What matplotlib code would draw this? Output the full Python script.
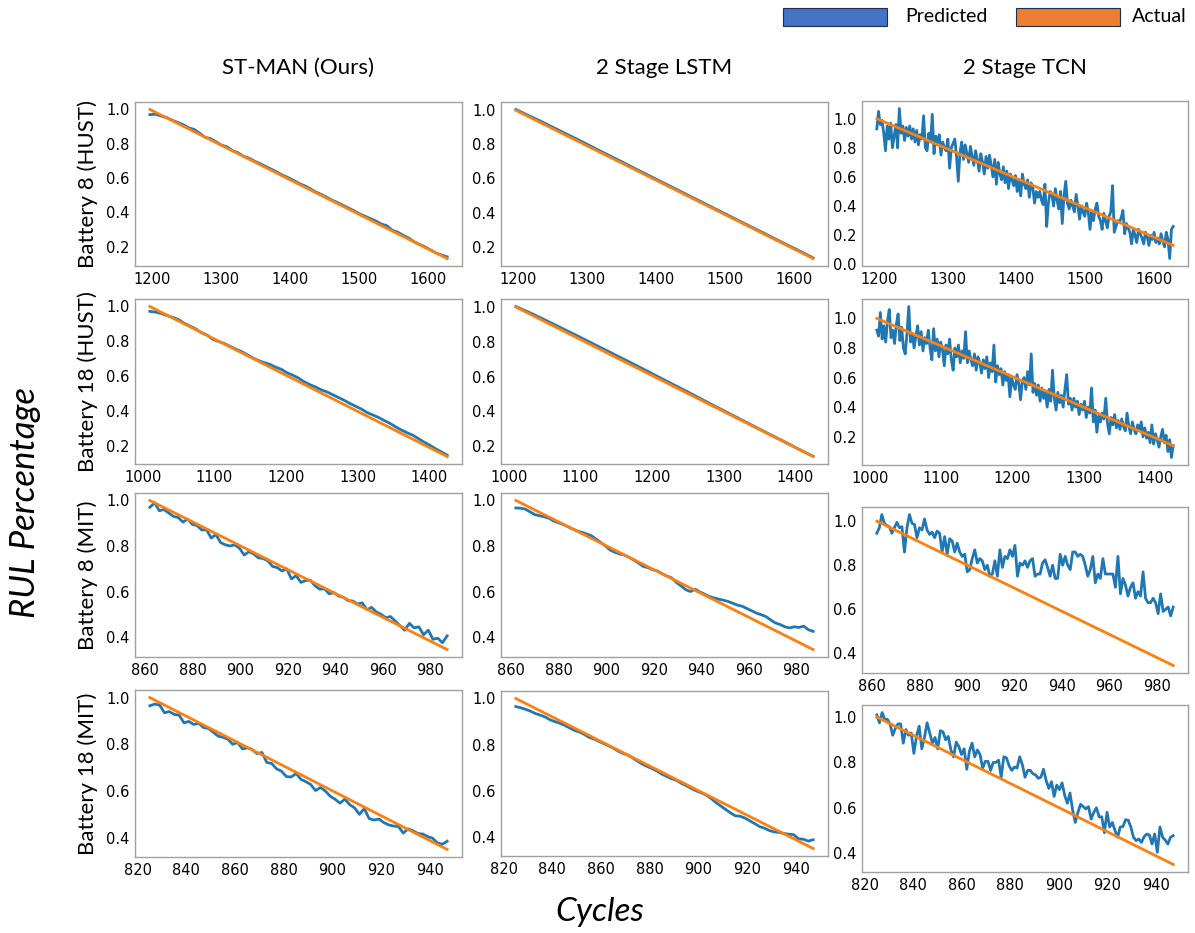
import numpy as np
import matplotlib.pyplot as plt
from matplotlib.patches import Rectangle
from matplotlib.ticker import MultipleLocator

# first / last cycle of each test battery
cycles_hust8 = [1197, 1628]
cycles_hust18 = [1010, 1425]
cycles_mit8 = [862, 987]
cycles_mit18 = [825, 947]

# actual RUL percentage at the first / last cycle (decays linearly)
actual_hust8 = [1.0, 0.13]
actual_hust18 = [1.0, 0.14]
actual_mit8 = [1.0, 0.345]
actual_mit18 = [1.0, 0.35]

# predicted RUL percentage, evenly spaced over each cycle range
stman_hust8 = [0.970, 0.972, 0.962, 0.953, 0.938, 0.925, 0.912, 0.893, 0.884, 0.862,
               0.838, 0.830, 0.812, 0.792, 0.782, 0.760, 0.748, 0.727, 0.716, 0.698,
               0.684, 0.668, 0.652, 0.636, 0.618, 0.604, 0.588, 0.570, 0.556, 0.540,
               0.520, 0.506, 0.490, 0.472, 0.458, 0.442, 0.426, 0.410, 0.392, 0.378,
               0.364, 0.350, 0.332, 0.322, 0.296, 0.284, 0.266, 0.250, 0.228, 0.212,
               0.198, 0.180, 0.162, 0.150, 0.140]
stman_hust18 = [0.972, 0.968, 0.960, 0.948, 0.938, 0.925, 0.904, 0.888, 0.872, 0.850,
                0.836, 0.812, 0.800, 0.788, 0.772, 0.756, 0.742, 0.724, 0.705, 0.690,
                0.678, 0.668, 0.652, 0.640, 0.620, 0.606, 0.590, 0.568, 0.552, 0.538,
                0.522, 0.510, 0.494, 0.478, 0.462, 0.444, 0.428, 0.412, 0.392, 0.378,
                0.364, 0.346, 0.330, 0.310, 0.292, 0.276, 0.262, 0.242, 0.222, 0.204,
                0.184, 0.166, 0.148]
stman_mit8 = [0.970, 0.990, 0.955, 0.960, 0.945, 0.930, 0.925, 0.905, 0.918, 0.895,
              0.890, 0.870, 0.872, 0.835, 0.850, 0.815, 0.805, 0.800, 0.805, 0.790,
              0.760, 0.775, 0.765, 0.748, 0.745, 0.735, 0.710, 0.705, 0.690, 0.700,
              0.655, 0.670, 0.640, 0.648, 0.650, 0.625, 0.610, 0.612, 0.590, 0.595,
              0.580, 0.575, 0.560, 0.558, 0.545, 0.550, 0.520, 0.530, 0.510, 0.500,
              0.485, 0.490, 0.470, 0.450, 0.430, 0.460, 0.440, 0.445, 0.410, 0.430,
              0.390, 0.395, 0.375, 0.405]
stman_mit18 = [0.965, 0.972, 0.968, 0.935, 0.940, 0.928, 0.925, 0.892, 0.898, 0.885,
               0.890, 0.872, 0.868, 0.852, 0.835, 0.830, 0.822, 0.800, 0.808, 0.780,
               0.785, 0.778, 0.760, 0.765, 0.722, 0.718, 0.695, 0.685, 0.662, 0.660,
               0.675, 0.650, 0.640, 0.628, 0.602, 0.615, 0.600, 0.578, 0.565, 0.548,
               0.565, 0.542, 0.528, 0.500, 0.525, 0.482, 0.476, 0.480, 0.465, 0.455,
               0.450, 0.448, 0.420, 0.438, 0.430, 0.418, 0.416, 0.405, 0.398, 0.378,
               0.372, 0.385]

lstm_hust8 = [1.005, 0.970, 0.936, 0.900, 0.864, 0.828, 0.791, 0.754, 0.718, 0.681,
              0.644, 0.608, 0.571, 0.535, 0.498, 0.462, 0.425, 0.389, 0.352, 0.316,
              0.280, 0.243, 0.207, 0.171, 0.134]
lstm_hust18 = [1.003, 0.965, 0.924, 0.882, 0.840, 0.797, 0.754, 0.711, 0.668, 0.624,
               0.580, 0.536, 0.492, 0.447, 0.403, 0.359, 0.315, 0.271, 0.228, 0.184,
               0.141]
lstm_mit8 = [0.967, 0.966, 0.962, 0.950, 0.938, 0.933, 0.928, 0.922, 0.910, 0.902,
             0.895, 0.885, 0.875, 0.866, 0.860, 0.853, 0.845, 0.830, 0.815, 0.800,
             0.782, 0.772, 0.765, 0.760, 0.750, 0.738, 0.725, 0.710, 0.705, 0.696,
             0.690, 0.678, 0.668, 0.660, 0.640, 0.625, 0.608, 0.600, 0.610, 0.598,
             0.588, 0.578, 0.572, 0.566, 0.562, 0.556, 0.548, 0.540, 0.535, 0.525,
             0.515, 0.505, 0.498, 0.490, 0.475, 0.462, 0.455, 0.445, 0.440, 0.445,
             0.442, 0.448, 0.432, 0.425]
lstm_mit18 = [0.965, 0.960, 0.953, 0.945, 0.935, 0.928, 0.920, 0.908, 0.900, 0.893,
              0.884, 0.873, 0.862, 0.855, 0.845, 0.832, 0.825, 0.815, 0.805, 0.795,
              0.785, 0.772, 0.762, 0.755, 0.742, 0.728, 0.715, 0.705, 0.696, 0.685,
              0.672, 0.662, 0.652, 0.645, 0.632, 0.622, 0.610, 0.600, 0.592, 0.582,
              0.568, 0.550, 0.535, 0.520, 0.505, 0.492, 0.490, 0.482, 0.470, 0.458,
              0.445, 0.438, 0.428, 0.422, 0.420, 0.415, 0.412, 0.410, 0.392, 0.390,
              0.382, 0.388]

tcn_hust8 = [0.93, 1.05, 0.96, 0.99, 0.90, 0.78, 0.95, 0.86, 0.97, 0.80,
             0.88, 0.96, 0.80, 1.07, 0.90, 0.95, 0.85, 0.94, 0.88, 0.95,
             0.86, 0.93, 0.84, 0.92, 0.82, 0.89, 0.86, 1.02, 0.80, 0.78,
             0.90, 0.84, 1.03, 0.76, 0.88, 0.82, 0.89, 0.75, 0.84, 0.80,
             0.78, 0.86, 0.66, 0.80, 0.83, 0.86, 0.74, 0.57, 0.77, 0.84,
             0.72, 0.82, 0.76, 0.70, 0.81, 0.74, 0.68, 0.78, 0.72, 0.64,
             0.76, 0.70, 0.62, 0.74, 0.66, 0.75, 0.68, 0.60, 0.72, 0.55,
             0.70, 0.62, 0.58, 0.67, 0.56, 0.64, 0.52, 0.62, 0.58, 0.54,
             0.61, 0.50, 0.58, 0.47, 0.62, 0.55, 0.52, 0.58, 0.46, 0.56,
             0.53, 0.42, 0.50, 0.46, 0.50, 0.44, 0.41, 0.55, 0.26, 0.42,
             0.50, 0.48, 0.40, 0.52, 0.44, 0.38, 0.50, 0.28, 0.47, 0.57,
             0.42, 0.38, 0.44, 0.40, 0.36, 0.48, 0.40, 0.31, 0.40, 0.36,
             0.33, 0.42, 0.36, 0.24, 0.36, 0.30, 0.38, 0.42, 0.33, 0.30,
             0.24, 0.35, 0.30, 0.25, 0.33, 0.36, 0.54, 0.22, 0.26, 0.30,
             0.29, 0.32, 0.37, 0.21, 0.28, 0.25, 0.22, 0.14, 0.24, 0.20,
             0.15, 0.24, 0.21, 0.18, 0.14, 0.22, 0.19, 0.13, 0.20, 0.17,
             0.22, 0.15, 0.18, 0.14, 0.21, 0.16, 0.12, 0.22, 0.17, 0.04,
             0.24, 0.26]
tcn_hust18 = [0.92, 0.88, 1.04, 0.86, 0.95, 0.84, 0.98, 1.06, 0.87, 0.92,
              0.83, 0.96, 1.03, 0.85, 0.94, 0.80, 0.76, 0.90, 1.08, 0.84,
              0.90, 0.80, 0.88, 0.95, 0.82, 0.91, 0.78, 0.87, 0.83, 0.92,
              0.80, 0.72, 0.93, 0.78, 0.86, 0.74, 0.84, 0.79, 0.68, 0.82,
              0.76, 0.86, 0.72, 0.65, 0.80, 0.74, 0.82, 0.70, 0.78, 0.73,
              0.91, 0.70, 0.78, 0.72, 0.68, 0.76, 0.65, 0.74, 0.70, 0.63,
              0.72, 0.66, 0.74, 0.60, 0.70, 0.64, 0.82, 0.57, 0.68, 0.62,
              0.66, 0.55, 0.64, 0.58, 0.62, 0.47, 0.60, 0.55, 0.52, 0.62,
              0.56, 0.45, 0.58, 0.60, 0.52, 0.64, 0.55, 0.76, 0.50, 0.56,
              0.48, 0.55, 0.44, 0.53, 0.46, 0.50, 0.40, 0.52, 0.44, 0.65,
              0.46, 0.38, 0.50, 0.43, 0.48, 0.40, 0.52, 0.62, 0.42, 0.46,
              0.38, 0.46, 0.40, 0.44, 0.35, 0.42, 0.38, 0.44, 0.33, 0.40,
              0.36, 0.53, 0.30, 0.38, 0.23, 0.34, 0.30, 0.36, 0.32, 0.46,
              0.29, 0.22, 0.33, 0.28, 0.35, 0.26, 0.31, 0.25, 0.32, 0.27,
              0.24, 0.36, 0.27, 0.22, 0.30, 0.25, 0.22, 0.28, 0.24, 0.30,
              0.20, 0.26, 0.19, 0.23, 0.16, 0.28, 0.15, 0.22, 0.18, 0.13,
              0.20, 0.25, 0.16, 0.21, 0.10, 0.18, 0.06, 0.14]
tcn_mit8 = [0.945, 0.970, 1.030, 0.990, 0.980, 0.975, 0.945, 0.970, 0.995, 0.970,
            0.975, 0.860, 0.970, 1.030, 0.990, 0.985, 0.925, 0.970, 0.960, 1.010,
            0.960, 0.940, 0.950, 0.925, 0.955, 0.945, 0.860, 0.930, 0.850, 0.920,
            0.910, 0.860, 0.900, 0.860, 0.840, 0.850, 0.770, 0.780, 0.830, 0.870,
            0.810, 0.830, 0.820, 0.780, 0.800, 0.750, 0.760, 0.820, 0.750, 0.870,
            0.790, 0.840, 0.830, 0.870, 0.840, 0.890, 0.750, 0.810, 0.800, 0.820,
            0.790, 0.820, 0.830, 0.750, 0.760, 0.760, 0.810, 0.825, 0.790, 0.750,
            0.800, 0.740, 0.740, 0.850, 0.800, 0.840, 0.800, 0.780, 0.860, 0.860,
            0.840, 0.850, 0.840, 0.800, 0.750, 0.780, 0.840, 0.720, 0.760, 0.740,
            0.830, 0.760, 0.760, 0.760, 0.760, 0.700, 0.840, 0.670, 0.740, 0.710,
            0.660, 0.700, 0.720, 0.650, 0.680, 0.660, 0.770, 0.650, 0.630, 0.630,
            0.650, 0.630, 0.580, 0.670, 0.590, 0.600, 0.610, 0.570, 0.610]
tcn_mit18 = [1.010, 0.975, 1.020, 0.990, 0.990, 0.970, 0.920, 0.950, 0.970, 0.970,
             0.885, 0.945, 0.920, 0.930, 0.840, 0.915, 0.960, 0.860, 0.910, 0.975,
             0.930, 0.885, 0.910, 0.860, 0.940, 0.935, 0.900, 0.915, 0.855, 0.825,
             0.890, 0.870, 0.835, 0.860, 0.770, 0.850, 0.885, 0.825, 0.855, 0.835,
             0.775, 0.805, 0.805, 0.765, 0.800, 0.800, 0.810, 0.735, 0.825, 0.820,
             0.785, 0.765, 0.780, 0.775, 0.825, 0.790, 0.735, 0.765, 0.765, 0.750,
             0.745, 0.730, 0.735, 0.770, 0.720, 0.685, 0.715, 0.650, 0.700, 0.680,
             0.710, 0.655, 0.620, 0.665, 0.590, 0.535, 0.580, 0.615, 0.605, 0.595,
             0.605, 0.550, 0.580, 0.600, 0.560, 0.560, 0.490, 0.580, 0.515, 0.535,
             0.500, 0.470, 0.515, 0.517, 0.547, 0.545, 0.515, 0.470, 0.455, 0.462,
             0.447, 0.472, 0.484, 0.480, 0.440, 0.484, 0.403, 0.515, 0.470, 0.457,
             0.440, 0.470, 0.477]

batteries = [
    ("Battery 8 (HUST)", cycles_hust8, actual_hust8, [stman_hust8, lstm_hust8, tcn_hust8], 100),
    ("Battery 18 (HUST)", cycles_hust18, actual_hust18, [stman_hust18, lstm_hust18, tcn_hust18], 100),
    ("Battery 8 (MIT)", cycles_mit8, actual_mit8, [stman_mit8, lstm_mit8, tcn_mit8], 20),
    ("Battery 18 (MIT)", cycles_mit18, actual_mit18, [stman_mit18, lstm_mit18, tcn_mit18], 20),
]
models = ["ST-MAN (Ours)", "2 Stage LSTM", "2 Stage TCN"]

W, H = 1195, 933
# panel boxes in pixels: (left, top, right, bottom)
col_x = [(135, 462), (501, 828), (862, 1188)]
row_y = [
    [(102, 266), (102, 266), (101, 266)],
    [(299, 464), (299, 464), (299, 465)],
    [(493, 657), (493, 657), (507, 673)],
    [(690, 857), (691, 856), (705, 872)],
]

PRED = '#1f77b4'
ACT = '#ff7f0e'
TEXT_FONT = ['Lato', 'DejaVu Sans']

fig = plt.figure(figsize=(W / 100, H / 100), dpi=100)
fig.patch.set_facecolor('white')

for r, (label, cyc, act, preds, xstep) in enumerate(batteries):
    for c, pred in enumerate(preds):
        x0, x1 = col_x[c]
        y0, y1 = row_y[r][c]
        ax = fig.add_axes([x0 / W, 1 - y1 / H, (x1 - x0) / W, (y1 - y0) / H])
        xs = np.linspace(cyc[0], cyc[1], len(pred))
        ax.plot(xs, pred, color=PRED, lw=2.0)
        ax.plot(cyc, act, color=ACT, lw=2.0)
        ax.xaxis.set_major_locator(MultipleLocator(xstep))
        ax.yaxis.set_major_locator(MultipleLocator(0.2))
        ax.tick_params(labelsize=10.5, length=0, pad=4, colors='black')
        for sp in ax.spines.values():
            sp.set_color('#a0a0a0')
            sp.set_linewidth(1.0)

    y0, y1 = row_y[r][0]
    fig.text(88 / W, 1 - (y0 + y1) / 2 / H, label, rotation=90, ha='center', va='center',
             fontsize=16, family=TEXT_FONT)

for c, name in enumerate(models):
    x0, x1 = col_x[c]
    fig.text((x0 + x1) / 2 / W, 1 - 68 / H, name, ha='center', va='center',
             fontsize=16, family=TEXT_FONT)

fig.text(25 / W, 1 - 503 / H, "RUL Percentage", rotation=90, ha='center', va='center',
         fontsize=25, style='italic', family=TEXT_FONT)
fig.text(600 / W, 1 - 912 / H, "Cycles", ha='center', va='center',
         fontsize=24, style='italic', family=TEXT_FONT)

# legend boxes drawn straight onto the figure
for left, color, text, tx in [(783, '#4472C4', "Predicted", 905), (1016, '#ED7D31', "Actual", 1132)]:
    fig.patches.append(Rectangle((left / W, 1 - 26 / H), 104 / W, 18 / H, transform=fig.transFigure,
                                 facecolor=color, edgecolor='#1f2d4a', linewidth=0.8))
    fig.text(tx / W, 1 - 17 / H, text, ha='left', va='center', fontsize=14, family=TEXT_FONT)

fig.savefig('out.png', dpi=100, facecolor='white')
